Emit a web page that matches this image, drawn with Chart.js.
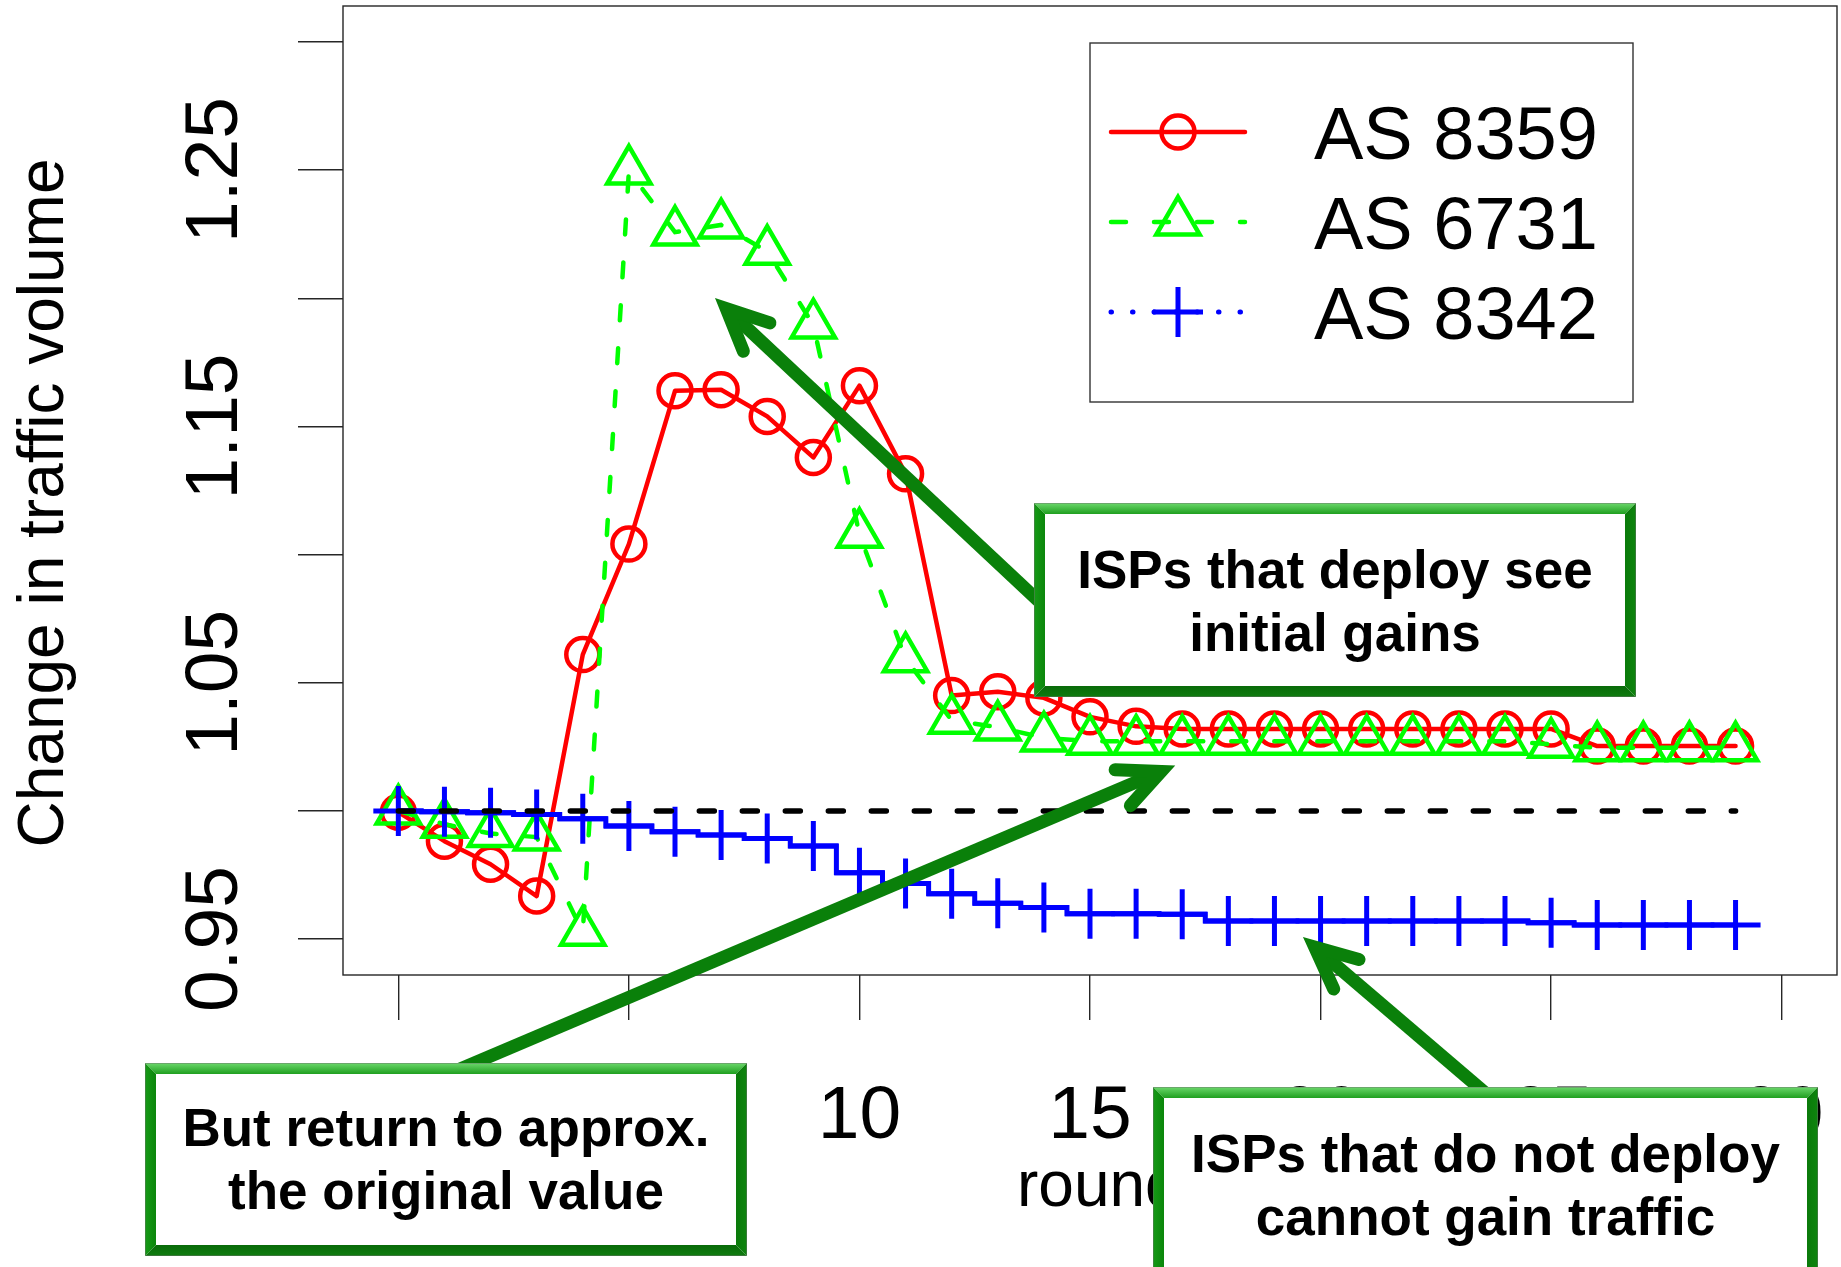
<!DOCTYPE html>
<html>
<head>
<meta charset="utf-8">
<script src="https://cdn.jsdelivr.net/npm/chart.js@4/dist/chart.umd.min.js"></script>
<style>
  html, body { margin: 0; padding: 0; background: #ffffff; }
  #wrap { width: 1841px; height: 1267px; position: relative; }
</style>
</head>
<body>
<div id="wrap"><canvas id="c" width="1841" height="1267"></canvas></div>
<script>
// Simulation rounds and the relative traffic volume of three ISPs
const rounds = [0, 1, 2, 3, 4, 5, 6, 7, 8, 9, 10, 11, 12, 13, 14, 15, 16, 17, 18, 19, 20, 21, 22, 23, 24, 25, 26, 27, 28, 29];
const as8359 = [0.9995, 0.9882, 0.9792, 0.9668, 1.0610, 1.1041, 1.1639, 1.1643, 1.1539, 1.1379,
                1.1659, 1.1315, 1.0450, 1.0465, 1.0441, 1.0367, 1.0330, 1.0320, 1.0320, 1.0320,
                1.0320, 1.0320, 1.0320, 1.0320, 1.0320, 1.0320, 1.0253, 1.0253, 1.0253, 1.0253];
const as6731 = [1.0000, 0.9948, 0.9912, 0.9898, 0.9527, 1.2496, 1.2258, 1.2286, 1.2183, 1.1896,
                1.1079, 1.0594, 1.0354, 1.0327, 1.0285, 1.0272, 1.0272, 1.0272, 1.0272, 1.0272,
                1.0272, 1.0272, 1.0272, 1.0272, 1.0272, 1.0260, 1.0246, 1.0246, 1.0246, 1.0246];
const as8342 = [1.0000, 0.9997, 0.9993, 0.9986, 0.9970, 0.9941, 0.9919, 0.9906, 0.9892, 0.9863,
                0.9759, 0.9717, 0.9677, 0.9640, 0.9623, 0.9599, 0.9599, 0.9597, 0.9571, 0.9571,
                0.9571, 0.9571, 0.9571, 0.9571, 0.9571, 0.9564, 0.9555, 0.9555, 0.9555, 0.9555];
// Reference level (no change)
const refRounds = [0, 29];
const refLevel = [1, 1];

const seriesNames = ['AS 8359', 'AS 6731', 'AS 8342'];
const xTicks = [0, 5, 10, 15, 20, 25, 30];
const yTicks = [0.95, 1.00, 1.05, 1.10, 1.15, 1.20, 1.25, 1.30];
const yLabelValues = [0.95, 1.05, 1.15, 1.25];
const yTickLabels = ['0.95', '1.05', '1.15', '1.25'];
const xTitle = 'round';
const yTitle = 'Change in traffic volume';

const notes = [
  { lines: ['ISPs that deploy see', 'initial gains'], box: [1034, 503, 1636, 697], base: 588,
    arrow: [1045, 607, 716, 299] },
  { lines: ['But return to approx.', 'the original value'], box: [145, 1063, 747, 1256], base: 1146,
    arrow: [446, 1075, 1174, 766] },
  { lines: ['ISPs that do not deploy', 'cannot gain traffic'], box: [1153, 1087, 1818, 1300], base: 1172,
    arrow: [1490, 1097, 1304, 938] }
];

const FONT = '"Liberation Sans", Arial, Helvetica, sans-serif';
const toXY = (xs, ys) => xs.map((v, i) => ({ x: v, y: ys[i] }));

function drawMarker(ctx, style, x, y, r, color, lw) {
  ctx.save();
  ctx.strokeStyle = color;
  ctx.lineWidth = lw;
  ctx.setLineDash([]);
  ctx.beginPath();
  if (style === 'circle') {
    ctx.arc(x, y, r, 0, Math.PI * 2);
  } else if (style === 'triangle') {
    for (let k = 0; k < 3; k++) {
      const a = k * 2 * Math.PI / 3;
      const px = x + Math.sin(a) * r, py = y - Math.cos(a) * r;
      if (k === 0) ctx.moveTo(px, py); else ctx.lineTo(px, py);
    }
    ctx.closePath();
  } else {
    ctx.moveTo(x - r, y); ctx.lineTo(x + r, y);
    ctx.moveTo(x, y - r); ctx.lineTo(x, y + r);
  }
  ctx.stroke();
  ctx.restore();
}

function drawArrow(ctx, x0, y0, x1, y1) {
  const green = '#0a800a';
  const w = 13;
  const len = Math.hypot(x1 - x0, y1 - y0);
  const ux = (x0 - x1) / len, uy = (y0 - y1) / len;
  // geometric tip sits behind the visible miter point
  const tx = x1 + ux * 14, ty = y1 + uy * 14;
  ctx.save();
  ctx.strokeStyle = green;
  ctx.lineWidth = w;
  ctx.setLineDash([]);
  ctx.lineCap = 'butt';
  ctx.beginPath();
  ctx.moveTo(x0, y0);
  ctx.lineTo(tx + ux * 4, ty + uy * 4);
  ctx.stroke();
  const ang = Math.atan2(uy, ux), spread = 25 * Math.PI / 180, L = 46;
  ctx.lineJoin = 'miter';
  ctx.miterLimit = 10;
  ctx.lineCap = 'round';
  ctx.beginPath();
  ctx.moveTo(tx + Math.cos(ang + spread) * L, ty + Math.sin(ang + spread) * L);
  ctx.lineTo(tx, ty);
  ctx.lineTo(tx + Math.cos(ang - spread) * L, ty + Math.sin(ang - spread) * L);
  ctx.stroke();
  ctx.restore();
}

function poly(ctx, pts, fill) {
  ctx.beginPath();
  pts.forEach((p, i) => i ? ctx.lineTo(p[0], p[1]) : ctx.moveTo(p[0], p[1]));
  ctx.closePath();
  ctx.fillStyle = fill;
  ctx.fill();
}

function bevelBox(ctx, x0, y0, x1, y1) {
  const b = 11;
  ctx.fillStyle = '#ffffff';
  ctx.fillRect(x0, y0, x1 - x0, y1 - y0);
  let g = ctx.createLinearGradient(0, y0, 0, y0 + b);
  g.addColorStop(0, '#6cd86c'); g.addColorStop(1, '#1f9f1f');
  poly(ctx, [[x0, y0], [x1, y0], [x1 - b, y0 + b], [x0 + b, y0 + b]], g);
  g = ctx.createLinearGradient(x0, 0, x0 + b, 0);
  g.addColorStop(0, '#169a16'); g.addColorStop(1, '#0b860b');
  poly(ctx, [[x0, y0], [x0 + b, y0 + b], [x0 + b, y1 - b], [x0, y1]], g);
  g = ctx.createLinearGradient(x1 - b, 0, x1, 0);
  g.addColorStop(0, '#0a7a0a'); g.addColorStop(1, '#0e840e');
  poly(ctx, [[x1, y0], [x1, y1], [x1 - b, y1 - b], [x1 - b, y0 + b]], g);
  g = ctx.createLinearGradient(0, y1 - b, 0, y1);
  g.addColorStop(0, '#096a09'); g.addColorStop(1, '#0f7c0f');
  poly(ctx, [[x0, y1], [x1, y1], [x1 - b, y1 - b], [x0 + b, y1 - b]], g);
  ctx.strokeStyle = 'rgba(110,110,110,0.45)';
  ctx.lineWidth = 1;
  ctx.strokeRect(x0 + 0.5, y0 + 0.5, x1 - x0 - 1, y1 - y0 - 1);
}

const decorations = {
  id: 'decorations',
  afterDraw(chart) {
    const { ctx, chartArea: a, scales } = chart;
    const xs = scales.x, ys = scales.y;
    ctx.save();
    // plot frame
    ctx.strokeStyle = '#262626';
    ctx.lineWidth = 1.4;
    ctx.strokeRect(a.left, a.top, a.right - a.left, a.bottom - a.top);

    // tick labels
    ctx.fillStyle = '#000000';
    ctx.font = '75px ' + FONT;
    yLabelValues.forEach((v, i) => {
      ctx.save();
      ctx.translate(a.left - 106, ys.getPixelForValue(v));
      ctx.rotate(-Math.PI / 2);
      ctx.textAlign = 'center';
      ctx.textBaseline = 'alphabetic';
      ctx.fillText(yTickLabels[i], 0, 0);
      ctx.restore();
    });
    ctx.textAlign = 'center';
    ctx.textBaseline = 'alphabetic';
    xTicks.forEach(v => ctx.fillText(String(v), xs.getPixelForValue(v), a.bottom + 163));

    // axis titles
    ctx.font = '64px ' + FONT;
    ctx.textAlign = 'left';
    ctx.fillText(xTitle, 1017, a.bottom + 231);
    ctx.save();
    ctx.translate(63, 503);
    ctx.rotate(-Math.PI / 2);
    ctx.textAlign = 'center';
    ctx.fillText(yTitle, 0, 0);
    ctx.restore();

    // legend
    ctx.strokeStyle = '#333333';
    ctx.lineWidth = 1.4;
    ctx.strokeRect(1090, 43, 543, 359);
    const rowsY = [132, 222, 312];
    const dashes = [[], [15, 28], [0.5, 21]];
    chart.data.datasets.slice(0, 3).forEach((ds, i) => {
      const ry = rowsY[i];
      ctx.save();
      ctx.strokeStyle = ds.borderColor;
      ctx.lineWidth = ds.borderWidth;
      ctx.lineCap = 'round';
      ctx.setLineDash(dashes[i]);
      ctx.beginPath();
      ctx.moveTo(1111, ry);
      ctx.lineTo(1245, ry);
      ctx.stroke();
      ctx.restore();
      drawMarker(ctx, ds.pointStyle, 1178, ry, ds.pointRadius, ds.borderColor, ds.pointBorderWidth);
      ctx.fillStyle = '#000000';
      ctx.font = '74px ' + FONT;
      ctx.textAlign = 'left';
      ctx.fillText(seriesNames[i], 1314, ry + 27);
    });

    // callouts
    notes.forEach(n => drawArrow(ctx, n.arrow[0], n.arrow[1], n.arrow[2], n.arrow[3]));
    notes.forEach(n => {
      const [x0, y0, x1, y1] = n.box;
      bevelBox(ctx, x0, y0, x1, y1);
      ctx.fillStyle = '#000000';
      ctx.font = 'bold 53px ' + FONT;
      ctx.textAlign = 'center';
      n.lines.forEach((t, k) => ctx.fillText(t, (x0 + x1) / 2, n.base + k * 62.5));
    });
    ctx.restore();
  }
};

new Chart(document.getElementById('c'), {
  type: 'line',
  data: {
    datasets: [
      {
        label: seriesNames[0], data: toXY(rounds, as8359), order: 4,
        borderColor: '#ff0000', borderWidth: 4.5, tension: 0,
        borderJoinStyle: 'round', borderCapStyle: 'round',
        pointStyle: 'circle', pointRadius: 16.5, pointBorderWidth: 4.5,
        pointBorderColor: '#ff0000', pointBackgroundColor: 'rgba(0,0,0,0)'
      },
      {
        label: seriesNames[1], data: toXY(rounds, as6731), order: 3,
        borderColor: '#00ff00', borderWidth: 4.5, tension: 0,
        borderDash: [15, 28], borderCapStyle: 'round',
        pointStyle: 'triangle', pointRadius: 25, pointBorderWidth: 4.5,
        pointBorderColor: '#00ff00', pointBackgroundColor: 'rgba(0,0,0,0)'
      },
      {
        label: seriesNames[2], data: toXY(rounds, as8342), order: 2,
        borderColor: '#0000ff', borderWidth: 5, stepped: 'middle',
        borderCapStyle: 'round',
        pointStyle: 'cross', pointRadius: 25, pointBorderWidth: 5,
        pointBorderColor: '#0000ff', pointBackgroundColor: 'rgba(0,0,0,0)'
      },
      {
        label: 'reference', data: toXY(refRounds, refLevel), order: 1,
        borderColor: '#000000', borderWidth: 5.5, borderDash: [15, 28],
        borderCapStyle: 'round', pointRadius: 0
      }
    ]
  },
  options: {
    responsive: false,
    devicePixelRatio: 1,
    animation: false,
    events: [],
    layout: { autoPadding: false, padding: { left: 298, right: 4, top: 6, bottom: 247 } },
    plugins: { legend: { display: false }, tooltip: { enabled: false } },
    scales: {
      x: {
        type: 'linear', min: -1.2, max: 31.2,
        afterBuildTicks: s => { s.ticks = xTicks.map(v => ({ value: v })); },
        afterFit: s => { s.height = 45; },
        ticks: { display: false },
        grid: { drawOnChartArea: false, drawTicks: true, tickLength: 45, color: '#262626', lineWidth: 1.4 },
        border: { display: false }
      },
      y: {
        type: 'linear', min: 0.936, max: 1.314,
        afterBuildTicks: s => { s.ticks = yTicks.map(v => ({ value: v })); },
        afterFit: s => { s.width = 45; },
        ticks: { display: false },
        grid: { drawOnChartArea: false, drawTicks: true, tickLength: 45, color: '#262626', lineWidth: 1.4 },
        border: { display: false }
      }
    }
  },
  plugins: [decorations]
});
</script>
</body>
</html>
